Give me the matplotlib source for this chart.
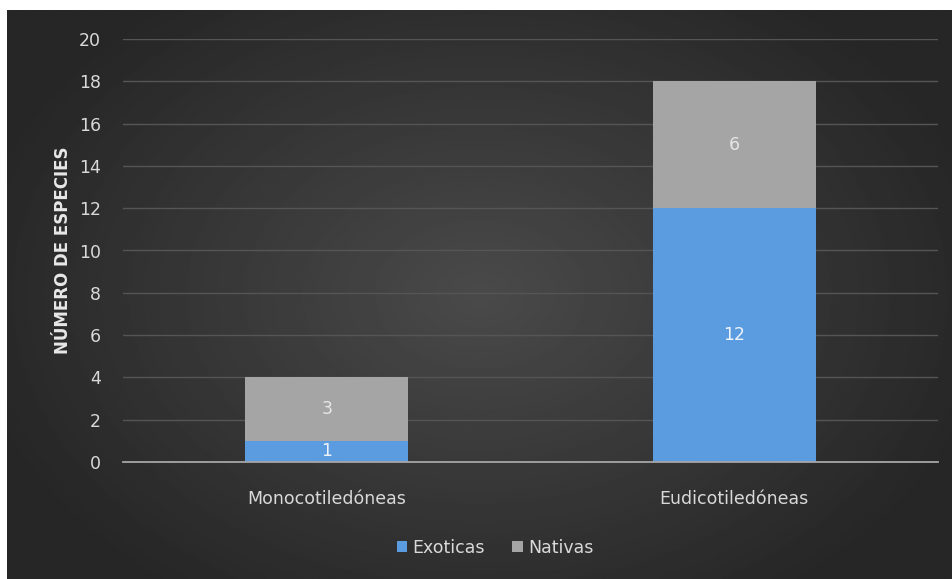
import numpy as np
import matplotlib.pyplot as plt

categorias = ['Monocotiledóneas', 'Eudicotiledóneas']
exoticas = [1, 12]
nativas = [3, 6]

plt.rcParams['font.family'] = ['DejaVu Sans']

fig = plt.figure(figsize=(9.53, 5.79), dpi=100, facecolor='white')

# fondo oscuro con degradado radial
bg = fig.add_axes([7 / 953, 0, 946 / 953, 569 / 579])
yy, xx = np.mgrid[-1:1:300j, -1:1:500j]
r = np.sqrt((xx / 1.1) ** 2 + (yy / 1.3) ** 2)
grad = 0.15 + 0.14 * np.clip(1 - r, 0, 1)
bg.imshow(grad, cmap='gray', vmin=0, vmax=1, aspect='auto', extent=[0, 1, 0, 1])
bg.set_axis_off()

ax = fig.add_axes([123 / 953, 117 / 579, 815 / 953, 423 / 579])
ax.patch.set_alpha(0)
x = np.arange(len(categorias))
b1 = ax.bar(x, exoticas, width=0.4, color='#5b9bdf', label='Exoticas', zorder=3)
b2 = ax.bar(x, nativas, width=0.4, bottom=exoticas, color='#a5a5a5', label='Nativas', zorder=3)

for rect, v in zip(b1, exoticas):
    ax.text(rect.get_x() + rect.get_width() / 2, rect.get_y() + rect.get_height() / 2, str(v),
            ha='center', va='center', color='#eef3fa', fontsize=12.5, zorder=4)
for rect, v in zip(b2, nativas):
    ax.text(rect.get_x() + rect.get_width() / 2, rect.get_y() + rect.get_height() / 2, str(v),
            ha='center', va='center', color='#e6e6e6', fontsize=12.5, zorder=4)

ax.set_xlim(-0.5, 1.5)
ax.set_ylim(0, 20)
ax.set_yticks(range(0, 21, 2))
ax.set_xticks(x)
ax.set_xticklabels(categorias)
ax.tick_params(axis='both', length=0, colors='#d9d9d9', labelsize=12.5)
ax.tick_params(axis='y', pad=16)
ax.tick_params(axis='x', pad=20)
ax.grid(axis='y', color='#555555', linewidth=1, zorder=0)
for s in ['top', 'right', 'left']:
    ax.spines[s].set_visible(False)
ax.spines['bottom'].set_color('#a6a6a6')
ax.spines['bottom'].set_linewidth(1.3)
ax.spines['bottom'].set_zorder(5)

ax.set_ylabel('NÚMERO DE ESPECIES', color='#e8e8e8', fontsize=12, fontweight='bold', labelpad=5)

fig.legend(loc='center', bbox_to_anchor=(495 / 953, 1 - 548 / 579), ncol=2, frameon=False,
           fontsize=12.5, labelcolor='#d9d9d9', handlelength=0.6, handleheight=0.6,
           handletextpad=0.3, columnspacing=1.6)

fig.savefig('out.png', dpi=100, facecolor='white')
